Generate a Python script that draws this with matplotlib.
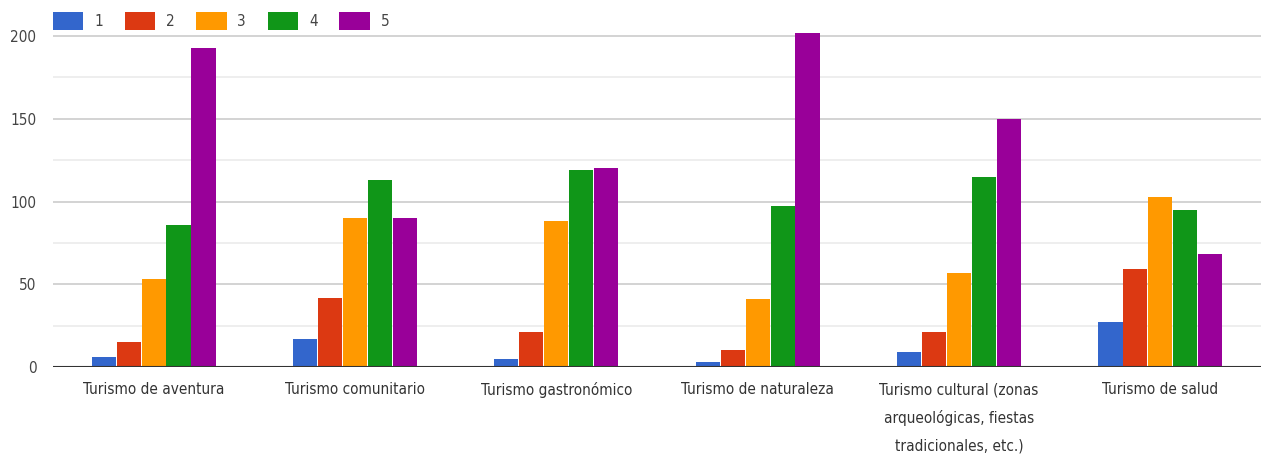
import matplotlib
matplotlib.use("Agg")
import matplotlib.pyplot as plt
import numpy as np
from matplotlib.patches import Patch

categories = ["Turismo de aventura", "Turismo comunitario", "Turismo gastronómico",
              "Turismo de naturaleza",
              "Turismo cultural (zonas\narqueológicas, fiestas\ntradicionales, etc.)",
              "Turismo de salud"]
series_names = ["1", "2", "3", "4", "5"]
s1 = [6, 17, 5, 3, 9, 27]
s2 = [15, 42, 21, 10, 21, 59]
s3 = [53, 90, 88, 41, 57, 103]
s4 = [86, 113, 119, 97, 115, 95]
s5 = [193, 90, 120, 202, 150, 68]
series = [s1, s2, s3, s4, s5]
colors = ["#3366cc", "#dc3912", "#ff9900", "#109618", "#990099"]
yticks = [0, 50, 100, 150, 200]

plt.rcParams['font.family'] = ['DejaVu Sans', 'Liberation Sans']
plt.rcParams['font.stretch'] = 'condensed'

fig = plt.figure(figsize=(12.61, 4.58), dpi=100)
ymax = 204
ax = fig.add_axes([0.042, 0.1987, 0.958, 0.737])

x = np.arange(len(categories))
bw = 0.124
for i, (vals, c) in enumerate(zip(series, colors)):
    ax.bar(x + (i - 2) * bw, vals, width=bw * 0.97, color=c, zorder=3)

ax.set_xlim(-0.5, len(categories) - 0.5)
ax.set_ylim(0, ymax)
ax.set_yticks(yticks)
ax.set_yticks([25, 75, 125, 175], minor=True)
ax.grid(axis='y', which='major', color='#cccccc', linewidth=1.2, zorder=0)
ax.grid(axis='y', which='minor', color='#ebebeb', linewidth=1.2, zorder=0)
ax.axhline(0, color='#333333', linewidth=1.5, zorder=4)
for sp in ax.spines.values():
    sp.set_visible(False)
ax.tick_params(axis='both', which='both', length=0, colors='#444444', labelsize=11)
ax.tick_params(axis='y', pad=12)
ax.tick_params(axis='x', pad=11)
ax.set_xticks(x)
ax.set_xticklabels(categories, linespacing=2.0, color='#333333')
ax.set_axisbelow(True)

handles = [Patch(facecolor=c, edgecolor='none') for c in colors]
fig.legend(handles, series_names, loc='upper left', bbox_to_anchor=(0.031, 1.003),
           ncol=5, frameon=False, fontsize=11, handlelength=2.0, handleheight=1.4,
           handletextpad=0.7, columnspacing=1.42, labelcolor='#444444')

fig.savefig("out.png", dpi=100, facecolor='white')
